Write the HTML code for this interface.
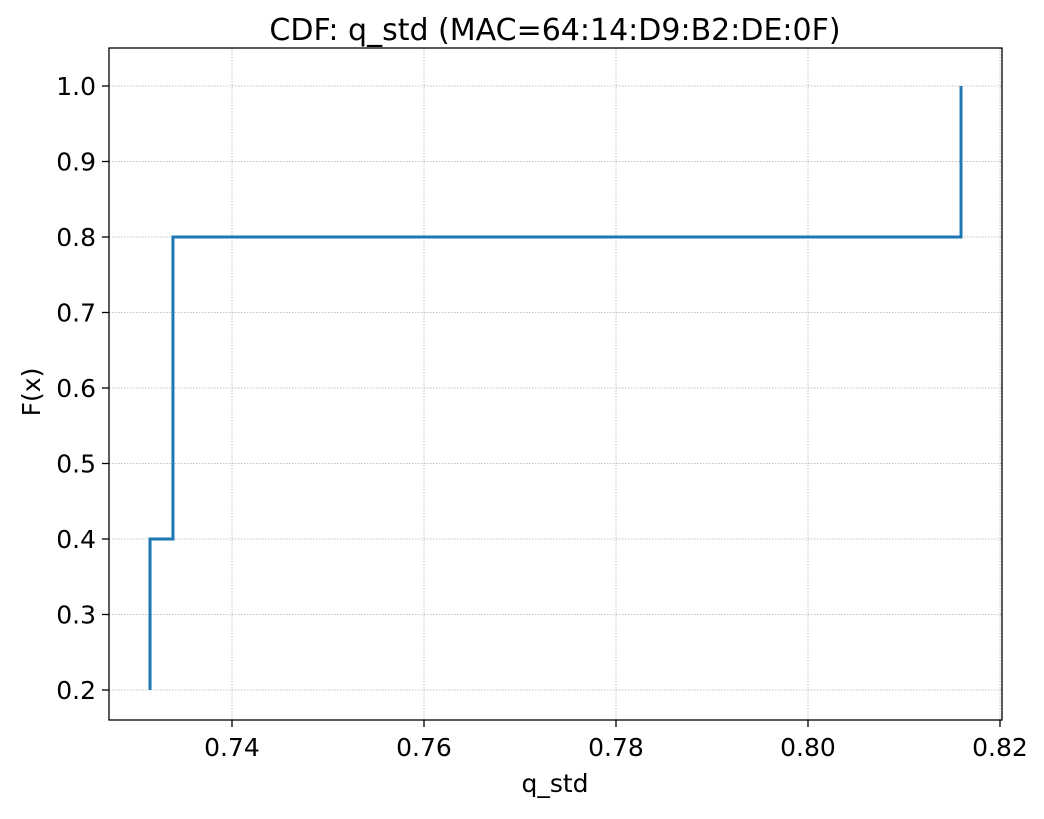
<!DOCTYPE html>
<html><head><meta charset="utf-8"><style>
body{margin:0;background:#fff;font-family:"DejaVu Sans","Liberation Sans",sans-serif;}
</style></head><body>
<svg id="chart" width="1044" height="815" xmlns="http://www.w3.org/2000/svg" style="font-family:'DejaVu Sans','Liberation Sans',sans-serif">
<rect width="1044" height="815" fill="#fff"/>
<g id="grid"></g>
<g id="ticks"></g>
<path id="series" fill="none" stroke="#1f77b4" stroke-width="3" stroke-linejoin="miter"/>
<rect x="109" y="48" width="893" height="672" fill="none" stroke="#000" stroke-width="1.3"/>
<text x="555" y="40" text-anchor="middle" font-size="30">CDF: q_std (MAC=64:14:D9:B2:DE:0F)</text>
<text x="555" y="792" text-anchor="middle" font-size="25">q_std</text>
<text transform="translate(40,392) rotate(-90)" text-anchor="middle" font-size="25">F(x)</text>
</svg>
<script>
const xValues=[0.73146,0.73146,0.73385,0.73385,0.81594];
const yValues=[0.2,0.4,0.6,0.8,1.0];
const xTicks=[0.74,0.76,0.78,0.80,0.82];
const xTickLabels=["0.74","0.76","0.78","0.80","0.82"];
const yTicks=[0.2,0.3,0.4,0.5,0.6,0.7,0.8,0.9,1.0];
const yTickLabels=["0.2","0.3","0.4","0.5","0.6","0.7","0.8","0.9","1.0"];
const NS="http://www.w3.org/2000/svg";
function X(v){return 232+(v-0.74)*9600;}
function Y(v){return 690-(v-0.2)*755;}
const grid=document.getElementById('grid'),ticks=document.getElementById('ticks');
function mk(tag,attrs,parent){const e=document.createElementNS(NS,tag);for(const k in attrs)e.setAttribute(k,attrs[k]);parent.appendChild(e);return e;}
xTicks.forEach((t,i)=>{const x=X(t);
 const g=mk('line',{x1:x,x2:x,y1:48,y2:720,stroke:'#b0b0b0','stroke-width':0.8,'stroke-dasharray':'1.5,1.5'},grid);
 
 
 const tk=mk('line',{x1:x,x2:x,y1:720,y2:727,stroke:'#000','stroke-width':1.3},ticks);
 
 
 const tx=mk('text',{x:x,y:756,'text-anchor':'middle','font-size':25},ticks);tx.textContent=xTickLabels[i];
 
 
});
yTicks.forEach((t,i)=>{const y=Y(t);
 const g=mk('line',{x1:109,x2:1002,y1:y,y2:y,stroke:'#b0b0b0','stroke-width':0.8,'stroke-dasharray':'1.5,1.5'},grid);
 
 
 const tk=mk('line',{x1:102,x2:109,y1:y,y2:y,stroke:'#000','stroke-width':1.3},ticks);
 
 
 const tx=mk('text',{x:96,y:y+9,'text-anchor':'end','font-size':25},ticks);tx.textContent=yTickLabels[i];
 
 
});
let d='M'+X(xValues[0])+','+Y(yValues[0]);
for(let i=1;i<xValues.length;i++){d+=' L'+X(xValues[i])+','+Y(yValues[i-1])+' L'+X(xValues[i])+','+Y(yValues[i]);}
document.getElementById('series').setAttribute('d',d);
</script>
</body></html>
